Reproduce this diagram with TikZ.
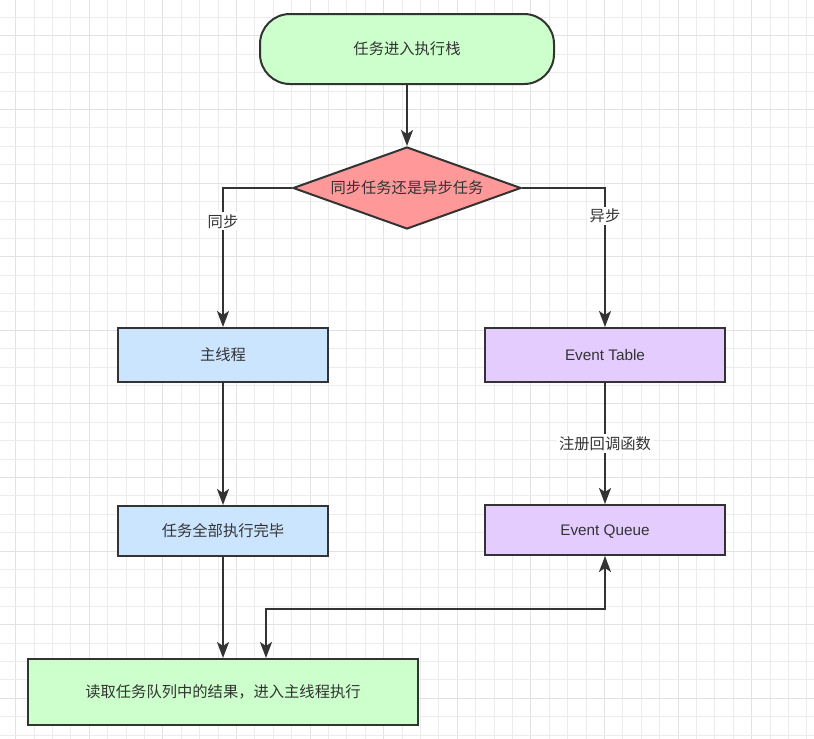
\documentclass[tikz,border=0pt]{standalone}
\usepackage{fontspec}
\setmainfont{Liberation Sans}
\newfontfamily\cjk{Noto Sans CJK SC}
\usetikzlibrary{shapes.geometric,arrows.meta,calc}
\definecolor{ln}{HTML}{333333}
\definecolor{txt}{HTML}{333333}
\definecolor{gminor}{HTML}{ECECEC}
\definecolor{gmajor}{HTML}{E2E2E2}
\definecolor{fgreen}{HTML}{CCFFCC}
\definecolor{fred}{HTML}{FF9999}
\definecolor{fblue}{HTML}{CCE5FF}
\definecolor{fpurple}{HTML}{E5CCFF}
\tikzset{
  base/.style={draw=ln, line width=2pt, text=txt, inner sep=0pt, align=center,
    font=\cjk\fontsize{15.3}{18}\selectfont},
  termbox/.style={base, fill=fgreen, rounded corners=30pt},
  decbox/.style={base, fill=fred, shape=diamond, aspect=2.75},
  bluebox/.style={base, fill=fblue, rectangle},
  purplebox/.style={base, fill=fpurple, rectangle, font=\fontsize{15.3}{18}\selectfont},
  greenbox/.style={base, fill=fgreen, rectangle},
  conn/.style={draw=ln, line width=2pt, -{Stealth[length=16pt,width=12pt,inset=4pt]}},
  conn2/.style={draw=ln, line width=2pt, {Stealth[length=16pt,width=12pt,inset=4pt]}-{Stealth[length=16pt,width=12pt,inset=4pt]}},
  lbl/.style={fill=white, text=txt, inner sep=2pt, font=\cjk\fontsize{15.3}{18}\selectfont},
}
\begin{document}
\begin{tikzpicture}[x=1pt,y=-1pt]
\useasboundingbox (0,0) rectangle (814,739);
\fill[white] (0,0) rectangle (814,739);
% grid
\foreach \k in {0,...,43}{
  \pgfmathtruncatemacro{\m}{mod(\k,4)}
  \pgfmathsetmacro{\gx}{floor(15.7+18.4*\k)+0.5}
  \ifnum\m=0
    \draw[gmajor, line width=1pt] (\gx,0) -- (\gx,739);
  \else
    \draw[gminor, line width=1pt] (\gx,0) -- (\gx,739);
  \fi
}
\foreach \k in {1,...,40}{
  \pgfmathtruncatemacro{\m}{mod(\k,4)}
  \pgfmathsetmacro{\gy}{floor(-0.8+18.4*\k)+0.5}
  \ifnum\m=2
    \draw[gmajor, line width=1pt] (0,\gy) -- (814,\gy);
  \else
    \draw[gminor, line width=1pt] (0,\gy) -- (814,\gy);
  \fi
}
% nodes
\node[termbox, minimum width=294pt, minimum height=70pt] (start) at (407,49) {任务进入执行栈};
\node[decbox, minimum width=228pt, minimum height=82pt] (dec) at (407,188) {同步任务还是异步任务};
\node[bluebox, minimum width=210pt, minimum height=54pt] (main) at (223,355) {主线程};
\node[bluebox, minimum width=210pt, minimum height=50pt] (done) at (223,531) {任务全部执行完毕};
\node[purplebox, minimum width=240pt, minimum height=54pt] (table) at (605,355) {Event Table};
\node[purplebox, minimum width=240pt, minimum height=50pt, text depth=0pt] (queue) at (605,530) {Event Queue};
\node[greenbox, minimum width=390pt, minimum height=66pt] (result) at (223,692) {读取任务队列中的结果，进入主线程执行};
% connectors
\draw[conn] (start) -- (dec);
\draw[conn] (dec.west) -| node[lbl, pos=0.62] {同步} (main.north);
\draw[conn] (dec.east) -| node[lbl, pos=0.6] {异步} (table.north);
\draw[conn] (main) -- (done);
\draw[conn] (table) -- node[lbl] {注册回调函数} (queue);
\draw[conn] (done.south) -- (done.south |- result.north);
\coordinate (rq) at ($(result.north)+(43,0)$);
\draw[conn2] (queue.south) -- ++(0,53) -| (rq);
\end{tikzpicture}
\end{document}
